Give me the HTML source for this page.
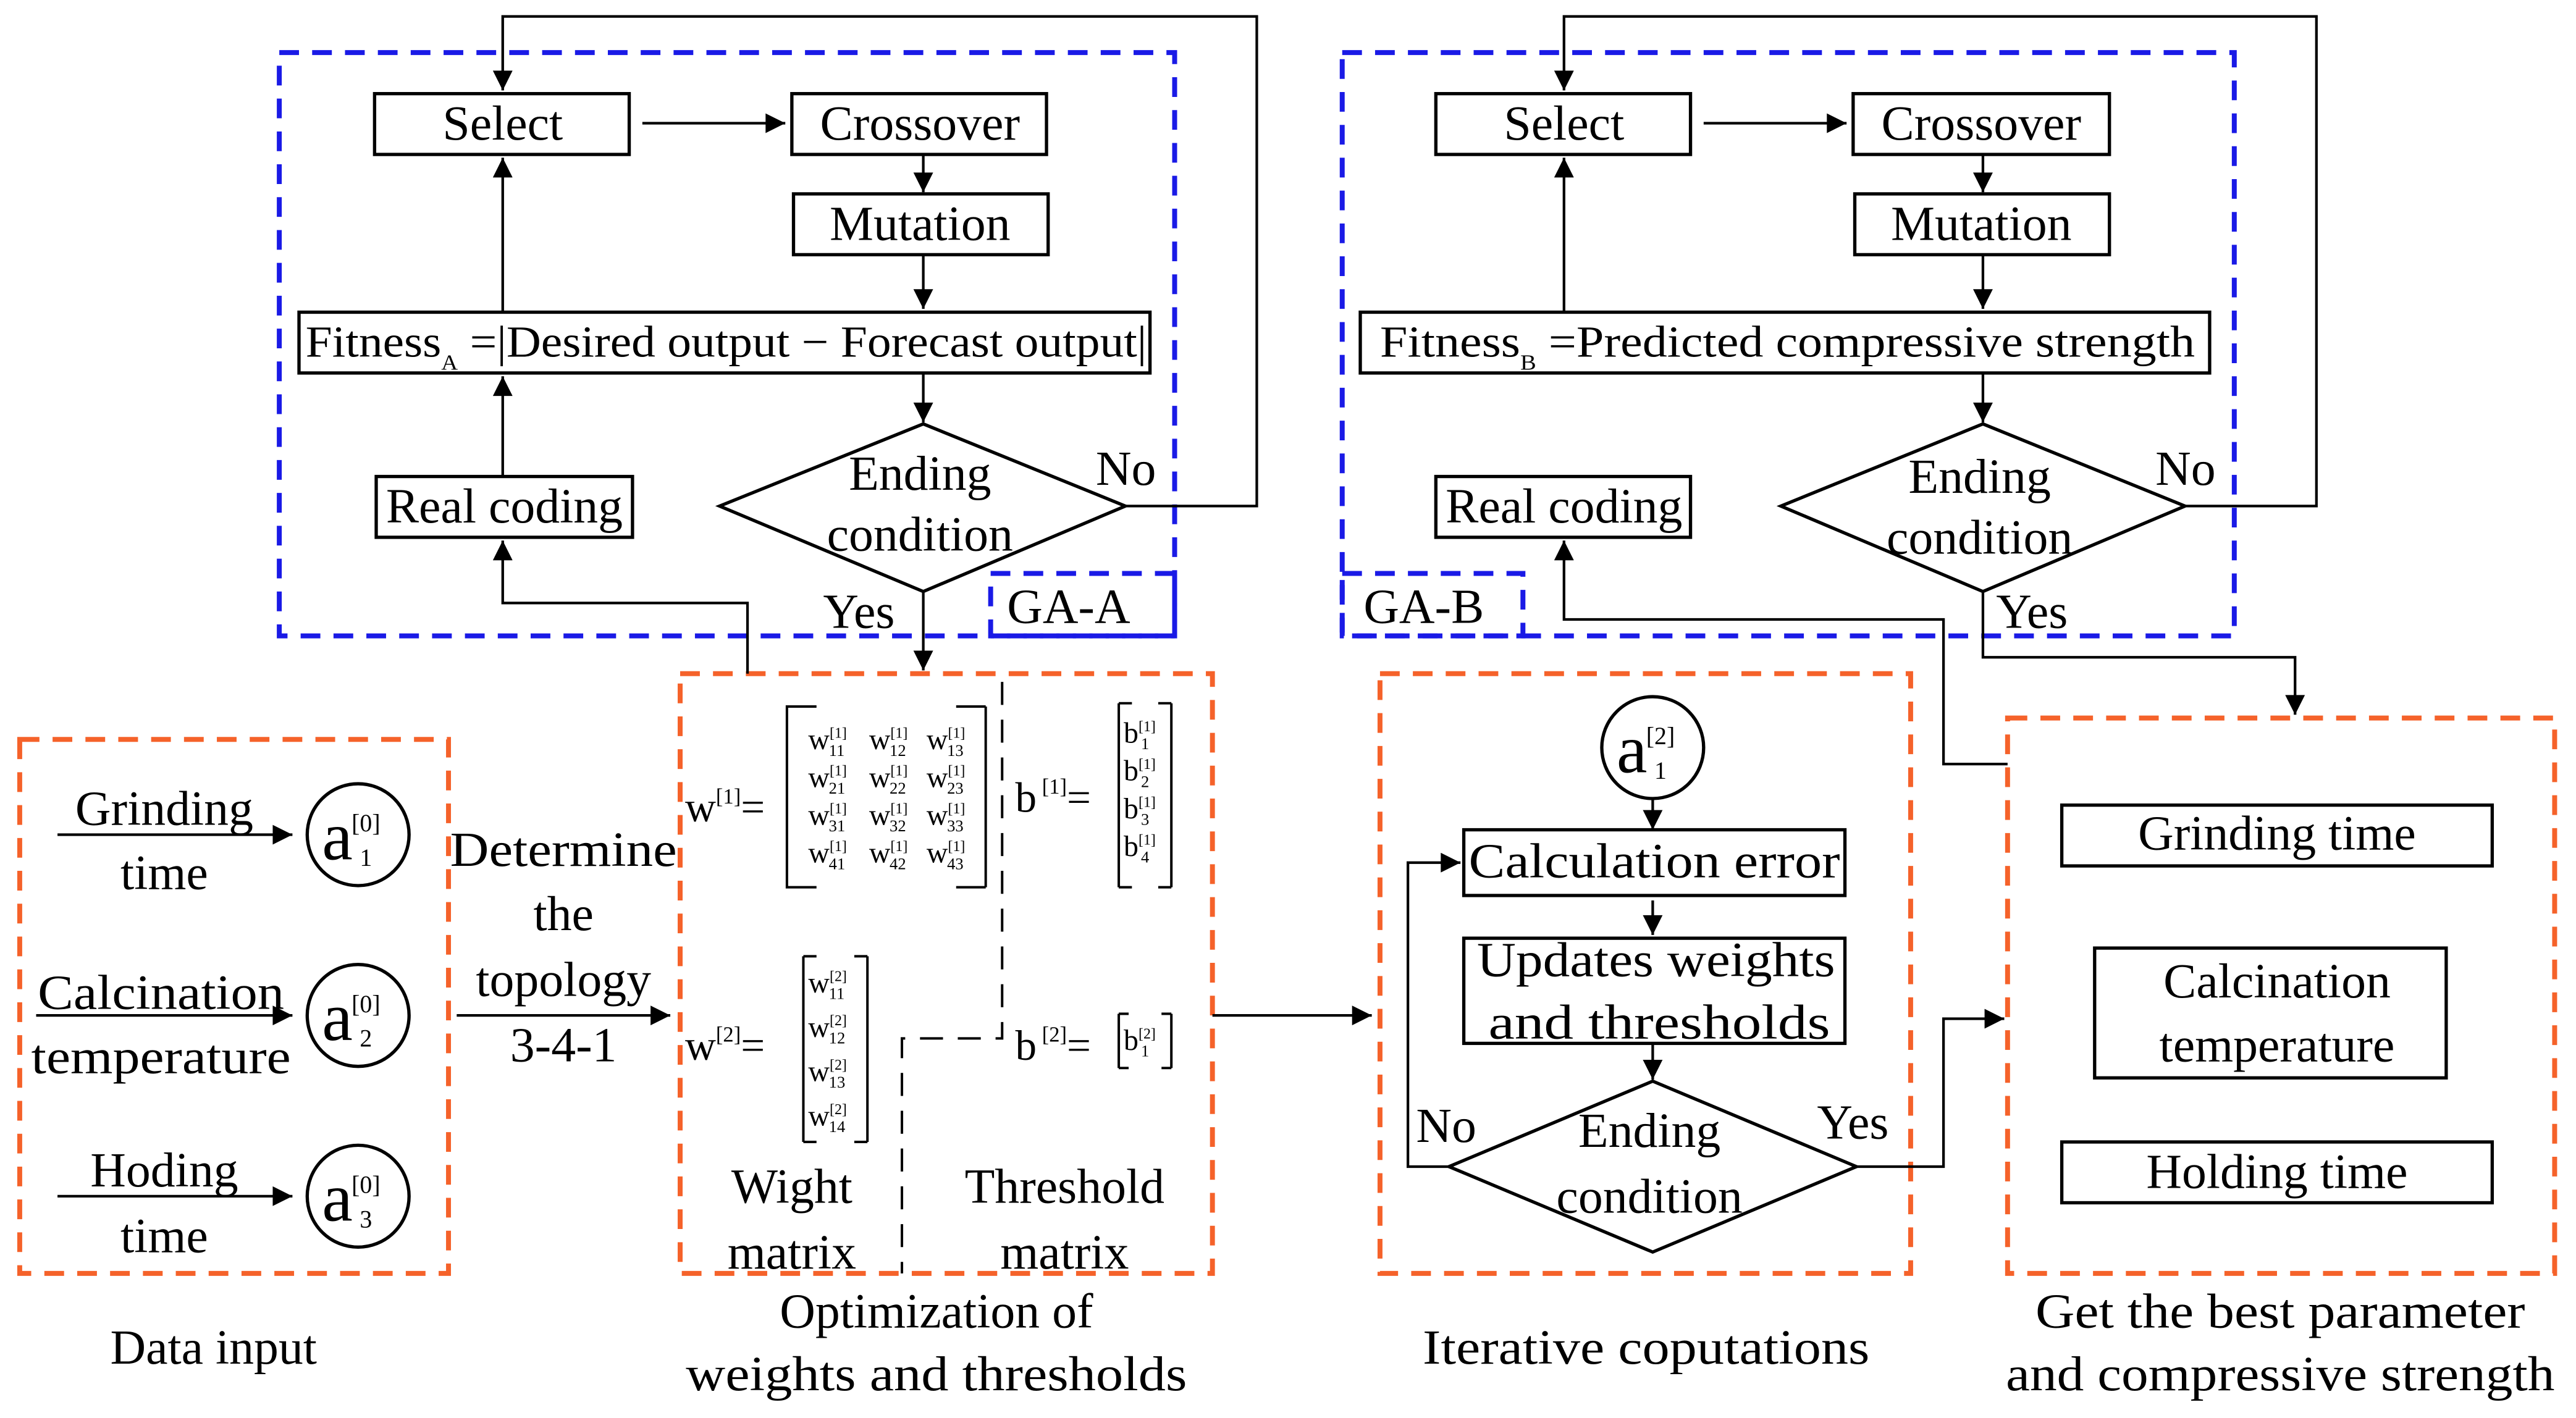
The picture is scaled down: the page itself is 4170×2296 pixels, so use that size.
<!DOCTYPE html>
<html><head><meta charset="utf-8"><style>
html,body{margin:0;padding:0;background:#fff}
svg{display:block}
text{font-family:"Liberation Serif",serif;fill:#000}
</style></head><body>
<svg width="4170" height="2296" viewBox="0 0 1568 863" preserveAspectRatio="none" xmlns="http://www.w3.org/2000/svg">
<defs>
<marker id="ar" viewBox="0 0 10 10" refX="10" refY="5" markerWidth="13" markerHeight="12" markerUnits="userSpaceOnUse" orient="auto">
<path d="M0,0 L10,5 L0,10 z" fill="#000"/></marker>
</defs>
<g fill="none" stroke-width="3" stroke-dasharray="12,8">
<rect x="170" y="32" width="545" height="355" stroke="#1a1ae6"/>
<rect x="603" y="349" width="112" height="38" stroke="#1a1ae6"/>
<rect x="817" y="32" width="543" height="355" stroke="#1a1ae6"/>
<rect x="817" y="349" width="110" height="38" stroke="#1a1ae6"/>
<rect x="12" y="450" width="261" height="325" stroke="#f5622a"/>
<rect x="414" y="410" width="324" height="365" stroke="#f5622a"/>
<rect x="840" y="410" width="323" height="365" stroke="#f5622a"/>
<rect x="1222" y="437" width="333" height="338" stroke="#f5622a"/>
</g>
<g fill="none" stroke="#000" stroke-width="1.5" stroke-dasharray="14,9">
<path d="M610,415 V632 H549 V775"/>
</g>
<g fill="none" stroke="#000" stroke-width="2">
<rect x="228" y="57" width="155" height="37"/>
<rect x="482" y="57" width="155" height="37"/>
<rect x="483" y="118" width="155" height="37"/>
<rect x="182" y="190" width="518" height="37"/>
<rect x="229" y="290" width="156" height="37"/>
<path d="M438,308 L562,258 L685,308 L562,360 Z"/>
<rect x="874" y="57" width="155" height="37"/>
<rect x="1128" y="57" width="156" height="37"/>
<rect x="1129" y="118" width="155" height="37"/>
<rect x="828" y="190" width="517" height="37"/>
<rect x="874" y="290" width="155" height="37"/>
<path d="M1084,308 L1207,258 L1330,308 L1207,360 Z"/>
<circle cx="218" cy="508" r="31"/>
<circle cx="218" cy="618" r="31"/>
<circle cx="218" cy="728" r="31"/>
<circle cx="1006" cy="455" r="31"/>
<rect x="891" y="505" width="232" height="40"/>
<rect x="891" y="571" width="232" height="64"/>
<path d="M882,710 L1006,658 L1130,710 L1006,762 Z"/>
<rect x="1255" y="490" width="262" height="37"/>
<rect x="1275" y="577" width="214" height="79"/>
<rect x="1255" y="695" width="262" height="37"/>
</g>
<g fill="none" stroke="#000" stroke-width="1.5">
<path d="M481,430 h-2 v110 h2 M479,430 h18 M479,540 h18 M600,430 v110 M600,430 h-18 M600,540 h-18"/>
<path d="M681,428 v112 M681,428 h8 M681,540 h8 M713,428 v112 M713,428 h-8 M713,540 h-8"/>
<path d="M489,582 v113 M489,582 h8 M489,695 h8 M528,582 v113 M528,582 h-8 M528,695 h-8"/>
<path d="M681,617 v33 M681,617 h6 M681,650 h6 M713,617 v33 M713,617 h-6 M713,650 h-6"/>
</g>
<g fill="none" stroke="#000" stroke-width="1.6" marker-end="url(#ar)">
<path d="M685,308 H765 V10 H306 V55"/>
<path d="M391,75 H478"/>
<path d="M562,94 V117"/>
<path d="M562,155 V188"/>
<path d="M562,227 V257"/>
<path d="M562,360 V408"/>
<path d="M306,290 V229"/>
<path d="M306,190 V96"/>
<path d="M455,410 V367 H306 V329"/>
<path d="M1330,308 H1410 V10 H952 V55"/>
<path d="M1037,75 H1124"/>
<path d="M1207,94 V117"/>
<path d="M1207,155 V188"/>
<path d="M1207,227 V257"/>
<path d="M952,190 V96"/>
<path d="M1207,360 V400 H1397 V435"/>
<path d="M1222,465 H1183 V377 H952 V329"/>
<path d="M35,508 H178"/>
<path d="M22,618 H178"/>
<path d="M35,728 H178"/>
<path d="M278,618 H408"/>
<path d="M738,618 H835"/>
<path d="M1006,486 V505"/>
<path d="M1006,548 V569"/>
<path d="M1006,635 V657"/>
<path d="M882,710 H857 V525 H889"/>
<path d="M1130,710 H1183 V620 H1220"/>
</g>
<g font-size="30" text-anchor="middle">
<text x="306" y="85">Select</text>
<text x="560" y="85">Crossover</text>
<text x="560" y="146">Mutation</text>
<text x="307" y="318">Real coding</text>
<text x="560" y="298">Ending</text>
<text x="560" y="335">condition</text>
<text x="952" y="85">Select</text>
<text x="1206" y="85">Crossover</text>
<text x="1206" y="146">Mutation</text>
<text x="952" y="318">Real coding</text>
<text x="1205" y="300">Ending</text>
<text x="1205" y="337">condition</text>
<text x="100" y="502">Grinding</text>
<text x="100" y="541">time</text>
<text x="98" y="614" textLength="150" lengthAdjust="spacingAndGlyphs">Calcination</text>
<text x="98" y="653" textLength="158" lengthAdjust="spacingAndGlyphs">temperature</text>
<text x="100" y="722">Hoding</text>
<text x="100" y="762">time</text>
<text x="343" y="527" textLength="138" lengthAdjust="spacingAndGlyphs">Determine</text>
<text x="343" y="566">the</text>
<text x="343" y="606">topology</text>
<text x="343" y="646">3-4-1</text>
<text x="482" y="732">Wight</text>
<text x="482" y="772">matrix</text>
<text x="648" y="732">Threshold</text>
<text x="648" y="772">matrix</text>
<text x="1007" y="534" textLength="226" lengthAdjust="spacingAndGlyphs">Calculation error</text>
<text x="1008" y="594" textLength="218" lengthAdjust="spacingAndGlyphs">Updates weights</text>
<text x="1010" y="632" textLength="208" lengthAdjust="spacingAndGlyphs">and thresholds</text>
<text x="1004" y="698">Ending</text>
<text x="1004" y="738">condition</text>
<text x="1386" y="517">Grinding time</text>
<text x="1386" y="607">Calcination</text>
<text x="1386" y="646">temperature</text>
<text x="1386" y="723">Holding time</text>
<text x="130" y="830">Data input</text>
<text x="570" y="808">Optimization of</text>
<text x="570" y="846" textLength="305" lengthAdjust="spacingAndGlyphs">weights and thresholds</text>
<text x="1002" y="830" textLength="272" lengthAdjust="spacingAndGlyphs">Iterative coputations</text>
<text x="1388" y="808" textLength="298" lengthAdjust="spacingAndGlyphs">Get the best parameter</text>
<text x="1388" y="846" textLength="334" lengthAdjust="spacingAndGlyphs">and compressive strength</text>
</g>
<g font-size="30">
<text x="667" y="295">No</text>
<text x="501" y="382">Yes</text>
<text x="613" y="379">GA-A</text>
<text x="1312" y="295">No</text>
<text x="1215" y="382">Yes</text>
<text x="830" y="379">GA-B</text>
<text x="862" y="695">No</text>
<text x="1106" y="693">Yes</text>
</g>
<text x="186" y="217" font-size="27" textLength="512" lengthAdjust="spacingAndGlyphs">Fitness<tspan font-size="13" dy="8">A</tspan><tspan dy="-8"> =|Desired output − Forecast output|</tspan></text>
<text x="840" y="217" font-size="27" textLength="496" lengthAdjust="spacingAndGlyphs">Fitness<tspan font-size="13" dy="8">B</tspan><tspan dy="-8"> =Predicted compressive strength</tspan></text>
<g>
<text x="196" y="523" font-size="42">a</text><text x="214" y="506" font-size="15">[0]</text><text x="219" y="527" font-size="15">1</text>
<text x="196" y="633" font-size="42">a</text><text x="214" y="616" font-size="15">[0]</text><text x="219" y="637" font-size="15">2</text>
<text x="196" y="743" font-size="42">a</text><text x="214" y="726" font-size="15">[0]</text><text x="219" y="747" font-size="15">3</text>
<text x="984" y="470" font-size="42">a</text><text x="1002" y="453" font-size="15">[2]</text><text x="1007" y="474" font-size="15">1</text>
</g>
<g font-size="26">
<text x="417" y="500">w<tspan font-size="13" dy="-11">[1]</tspan><tspan dy="11">=</tspan></text>
<text x="417" y="645">w<tspan font-size="13" dy="-11">[2]</tspan><tspan dy="11">=</tspan></text>
<text x="618" y="494">b<tspan font-size="13" dy="-11"> [1]</tspan><tspan dy="11">=</tspan></text>
<text x="618" y="645">b<tspan font-size="13" dy="-11"> [2]</tspan><tspan dy="11">=</tspan></text>
</g>
<g font-size="18">
<text x="492" y="456">w<tspan font-size="9" dy="-7">[1]</tspan><tspan font-size="10" dx="-11" dy="11">11</tspan></text>
<text x="529" y="456">w<tspan font-size="9" dy="-7">[1]</tspan><tspan font-size="10" dx="-11" dy="11">12</tspan></text>
<text x="564" y="456">w<tspan font-size="9" dy="-7">[1]</tspan><tspan font-size="10" dx="-11" dy="11">13</tspan></text>
<text x="492" y="479">w<tspan font-size="9" dy="-7">[1]</tspan><tspan font-size="10" dx="-11" dy="11">21</tspan></text>
<text x="529" y="479">w<tspan font-size="9" dy="-7">[1]</tspan><tspan font-size="10" dx="-11" dy="11">22</tspan></text>
<text x="564" y="479">w<tspan font-size="9" dy="-7">[1]</tspan><tspan font-size="10" dx="-11" dy="11">23</tspan></text>
<text x="492" y="502">w<tspan font-size="9" dy="-7">[1]</tspan><tspan font-size="10" dx="-11" dy="11">31</tspan></text>
<text x="529" y="502">w<tspan font-size="9" dy="-7">[1]</tspan><tspan font-size="10" dx="-11" dy="11">32</tspan></text>
<text x="564" y="502">w<tspan font-size="9" dy="-7">[1]</tspan><tspan font-size="10" dx="-11" dy="11">33</tspan></text>
<text x="492" y="525">w<tspan font-size="9" dy="-7">[1]</tspan><tspan font-size="10" dx="-11" dy="11">41</tspan></text>
<text x="529" y="525">w<tspan font-size="9" dy="-7">[1]</tspan><tspan font-size="10" dx="-11" dy="11">42</tspan></text>
<text x="564" y="525">w<tspan font-size="9" dy="-7">[1]</tspan><tspan font-size="10" dx="-11" dy="11">43</tspan></text>
<text x="492" y="604">w<tspan font-size="9" dy="-7">[2]</tspan><tspan font-size="10" dx="-11" dy="11">11</tspan></text>
<text x="492" y="631">w<tspan font-size="9" dy="-7">[2]</tspan><tspan font-size="10" dx="-11" dy="11">12</tspan></text>
<text x="492" y="658">w<tspan font-size="9" dy="-7">[2]</tspan><tspan font-size="10" dx="-11" dy="11">13</tspan></text>
<text x="492" y="685">w<tspan font-size="9" dy="-7">[2]</tspan><tspan font-size="10" dx="-11" dy="11">14</tspan></text>
<text x="684" y="452">b<tspan font-size="9" dy="-7">[1]</tspan><tspan font-size="10" dx="-9" dy="11">1</tspan></text>
<text x="684" y="475">b<tspan font-size="9" dy="-7">[1]</tspan><tspan font-size="10" dx="-9" dy="11">2</tspan></text>
<text x="684" y="498">b<tspan font-size="9" dy="-7">[1]</tspan><tspan font-size="10" dx="-9" dy="11">3</tspan></text>
<text x="684" y="521">b<tspan font-size="9" dy="-7">[1]</tspan><tspan font-size="10" dx="-9" dy="11">4</tspan></text>
<text x="684" y="639">b<tspan font-size="9" dy="-7">[2]</tspan><tspan font-size="10" dx="-9" dy="11">1</tspan></text>
</g>
</svg>
</body></html>
